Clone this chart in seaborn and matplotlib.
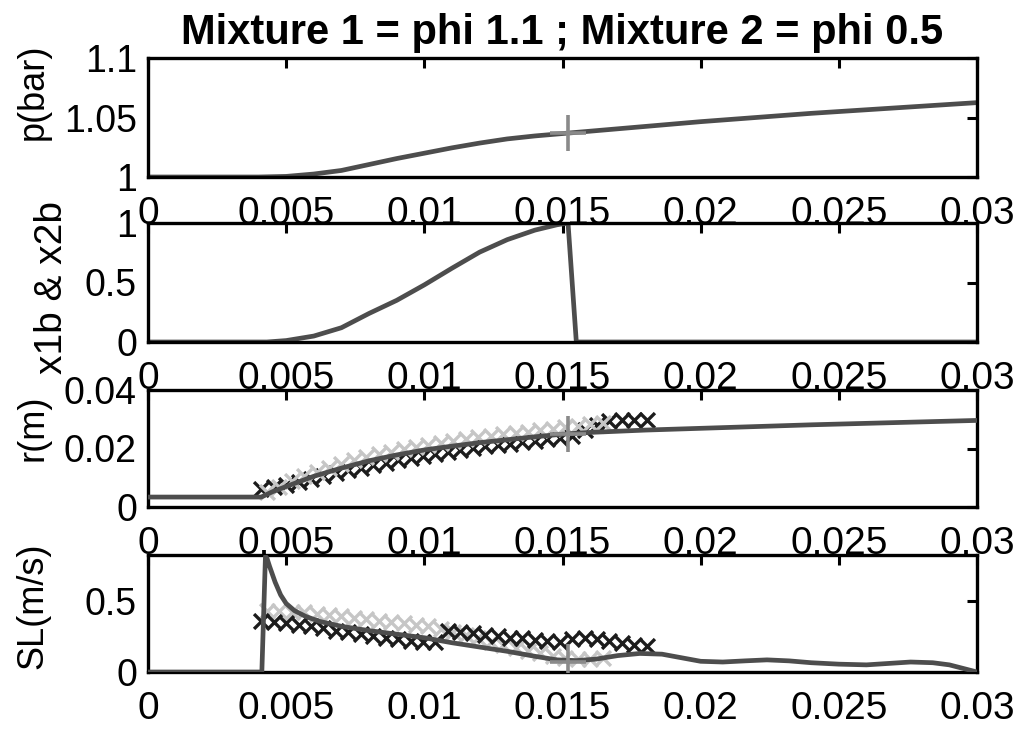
import matplotlib
matplotlib.use("Agg")
import matplotlib.pyplot as plt
import seaborn as sns

# ---- data ----
t_p = [0.0, 0.004, 0.005, 0.006, 0.007, 0.008, 0.009, 0.010, 0.011, 0.012, 0.013, 0.014, 0.015,
       0.016, 0.018, 0.020, 0.022, 0.024, 0.026, 0.028, 0.030]
p_bar = [1.0, 1.0, 1.0005, 1.0025, 1.0055, 1.0105, 1.0155, 1.020, 1.0245, 1.0285, 1.032, 1.0345, 1.0365,
         1.0385, 1.0425, 1.0465, 1.050, 1.0535, 1.0565, 1.0595, 1.0625]

t_x = [0.0, 0.0043, 0.005, 0.006, 0.007, 0.008, 0.009, 0.010, 0.011, 0.012, 0.013, 0.014,
       0.0148, 0.0152, 0.0155, 0.030]
x_burnt = [0.0, 0.0, 0.012, 0.05, 0.12, 0.24, 0.35, 0.48, 0.62, 0.755, 0.86, 0.94,
           0.985, 1.0, 0.0, 0.0]

t_r = [0.0, 0.0041, 0.0045, 0.005, 0.006, 0.007, 0.008, 0.009, 0.010, 0.011, 0.012, 0.013, 0.014,
       0.015, 0.016, 0.017, 0.018, 0.020, 0.022, 0.024, 0.026, 0.028, 0.030]
r_m = [0.0034, 0.0034, 0.0052, 0.0070, 0.0105, 0.0133, 0.0158, 0.0178, 0.0195, 0.0208, 0.0220, 0.0230, 0.0240,
       0.0249, 0.0255, 0.0259, 0.0263, 0.0269, 0.0275, 0.0281, 0.0286, 0.0291, 0.0296]

t_sl = [0.0, 0.00412, 0.00425, 0.0043, 0.0044, 0.0046, 0.0048, 0.0050, 0.0053, 0.0057, 0.0062,
        0.0070, 0.0080, 0.0090, 0.0100, 0.0110, 0.0120, 0.0130, 0.0140, 0.0148, 0.0155, 0.0162,
        0.0170, 0.0178, 0.0186, 0.0193, 0.0200, 0.0208, 0.0216, 0.0224, 0.0232, 0.0240, 0.0250,
        0.0260, 0.0268, 0.0276, 0.0284, 0.0290, 0.0296, 0.0300]
sl = [0.0, 0.0, 0.81, 0.80, 0.74, 0.63, 0.54, 0.48, 0.43, 0.39, 0.355,
      0.32, 0.29, 0.265, 0.24, 0.205, 0.175, 0.145, 0.11, 0.085, 0.08, 0.09,
      0.115, 0.13, 0.125, 0.10, 0.075, 0.07, 0.078, 0.085, 0.078, 0.065, 0.055,
      0.05, 0.06, 0.07, 0.065, 0.05, 0.02, 0.0]

# flame markers, mixture 1 (light) and mixture 2 (dark)
mix1_t = [0.0043, 0.00475, 0.0052, 0.00565, 0.0061, 0.00655, 0.007, 0.00745, 0.0079, 0.00835,
          0.0088, 0.00925, 0.0097, 0.01015, 0.0106, 0.01105, 0.0115, 0.01195, 0.0124, 0.01285,
          0.0133, 0.01375, 0.0142, 0.01465, 0.0151, 0.01555, 0.016, 0.01645]
mix1_r = [0.0050, 0.0070, 0.0088, 0.0105, 0.0120, 0.0134, 0.0147, 0.0159, 0.0170, 0.0180,
          0.0189, 0.0198, 0.0206, 0.0213, 0.0220, 0.0226, 0.0232, 0.0238, 0.0243, 0.0248,
          0.0253, 0.0258, 0.0263, 0.0268, 0.0273, 0.0278, 0.0283, 0.0288]
mix1_sl = [0.43, 0.43, 0.42, 0.42, 0.41, 0.40, 0.39, 0.38, 0.37, 0.36,
           0.35, 0.34, 0.33, 0.32, 0.30, 0.28, 0.26, 0.24, 0.21, 0.19,
           0.17, 0.15, 0.13, 0.11, 0.10, 0.09, 0.09, 0.10]

mix2_t = [0.0041, 0.00455, 0.005, 0.00545, 0.0059, 0.00635, 0.0068, 0.00725, 0.0077, 0.00815,
          0.0086, 0.00905, 0.0095, 0.00995, 0.0104, 0.01085, 0.0113, 0.01175, 0.0122, 0.01265,
          0.0131, 0.01355, 0.014, 0.01445, 0.0149, 0.01535, 0.0158, 0.01625, 0.0167, 0.01715,
          0.0176, 0.01805]
mix2_r = [0.0062, 0.0068, 0.0076, 0.0086, 0.0096, 0.0106, 0.0116, 0.0126, 0.0135, 0.0144,
          0.0152, 0.0160, 0.0168, 0.0175, 0.0182, 0.0189, 0.0195, 0.0201, 0.0207, 0.0212,
          0.0217, 0.0222, 0.0227, 0.0231, 0.0236, 0.0244, 0.0262, 0.0282, 0.0293, 0.0296,
          0.0297, 0.0297]
mix2_sl = [0.36, 0.35, 0.34, 0.33, 0.32, 0.305, 0.29, 0.28, 0.265, 0.25,
           0.24, 0.23, 0.22, 0.21, 0.21, 0.29, 0.28, 0.27, 0.26, 0.25,
           0.24, 0.235, 0.225, 0.215, 0.21, 0.23, 0.235, 0.23, 0.22, 0.20,
           0.19, 0.18]

# end of burn of mixture 1 (the "+" marker)
t_end = [0.0152]
p_end = [1.037]
r_end = [0.0248]
sl_end = [0.07]

x_ticks = [0, 0.005, 0.01, 0.015, 0.02, 0.025, 0.03]
x_ticklabels = ["0", "0.005", "0.01", "0.015", "0.02", "0.025", "0.03"]

sns.set_style("white")
plt.rcParams["font.family"] = ["Liberation Sans", "DejaVu Sans"]

line_c = "#4d4d4d"
light_c = "#c6c6c6"
dark_c = "#1c1c1c"
plus_c = "#8a8a8a"

fig = plt.figure(figsize=(10.19, 7.30), dpi=100)
left, width = 148 / 1019, 829 / 1019
tops = [58, 223, 390, 555]
bots = [177, 342, 507, 672]
axes = []
for top, bot in zip(tops, bots):
    ax = fig.add_axes([left, 1 - bot / 730, width, (bot - top) / 730])
    axes.append(ax)

ax1, ax2, ax3, ax4 = axes

# panel 1: pressure
sns.lineplot(x=t_p, y=p_bar, ax=ax1, color=line_c, lw=3.4, estimator=None, sort=False)
sns.scatterplot(x=t_end, y=p_end, ax=ax1, marker="+", s=650, linewidth=2.6, color=plus_c, zorder=5)
ax1.set_ylim(1, 1.1)
ax1.set_yticks([1, 1.05, 1.1])
ax1.set_yticklabels(["1", "1.05", "1.1"])

# panel 2: burnt fraction
sns.lineplot(x=t_x, y=x_burnt, ax=ax2, color=line_c, lw=3.4, estimator=None, sort=False)
ax2.set_ylim(0, 1)
ax2.set_yticks([0, 0.5, 1])
ax2.set_yticklabels(["0", "0.5", "1"])

# panel 3: flame radius
sns.scatterplot(x=mix2_t, y=mix2_r, ax=ax3, marker="x", s=115, linewidth=2.4, color=dark_c, zorder=2)
sns.scatterplot(x=mix1_t, y=mix1_r, ax=ax3, marker="x", s=115, linewidth=2.4, color=light_c, zorder=3)
sns.lineplot(x=t_r, y=r_m, ax=ax3, color=line_c, lw=3.4, estimator=None, sort=False, zorder=4)
sns.scatterplot(x=t_end, y=r_end, ax=ax3, marker="+", s=650, linewidth=2.6, color=plus_c, zorder=5)
ax3.set_ylim(0, 0.04)
ax3.set_yticks([0, 0.02, 0.04])
ax3.set_yticklabels(["0", "0.02", "0.04"])

# panel 4: laminar burning speed
sns.scatterplot(x=mix1_t, y=mix1_sl, ax=ax4, marker="x", s=115, linewidth=2.4, color=light_c, zorder=2)
sns.scatterplot(x=mix2_t, y=mix2_sl, ax=ax4, marker="x", s=115, linewidth=2.4, color=dark_c, zorder=3)
sns.lineplot(x=t_sl, y=sl, ax=ax4, color=line_c, lw=3.4, estimator=None, sort=False, zorder=4)
sns.scatterplot(x=t_end, y=sl_end, ax=ax4, marker="+", s=650, linewidth=2.6, color=plus_c, zorder=5)
ax4.set_ylim(0, 0.82)
ax4.set_yticks([0, 0.5])
ax4.set_yticklabels(["0", "0.5"])

ylabels = ["p(bar)", "x1b & x2b", "r(m)", "SL(m/s)"]
label_x = [-0.139, -0.116, -0.139, -0.139]
label_y = [0.72, 0.46, 0.675, 0.57]
label_size = [26, 28, 26, 26]
for ax, lab, lx, ly, fs in zip(axes, ylabels, label_x, label_y, label_size):
    ax.set_xlim(0, 0.03)
    ax.set_xticks(x_ticks)
    ax.set_xticklabels(x_ticklabels)
    ax.tick_params(direction="in", top=True, right=True, length=7, width=2.2,
                   color="black", labelcolor="black")
    ax.tick_params(axis="x", pad=14, labelsize=28)
    ax.tick_params(axis="y", pad=8, labelsize=27)
    for sp in ax.spines.values():
        sp.set_visible(True)
        sp.set_color("black")
        sp.set_linewidth(2.4)
    ax.set_xlabel("")
    ax.set_ylabel("")
    ax.text(lx, ly, lab, transform=ax.transAxes, rotation=90, ha="center", va="center",
            fontsize=fs, color="black")

ax1.set_title("Mixture 1 = phi 1.1 ; Mixture 2 = phi 0.5", fontsize=30, fontweight="bold",
              color="black", pad=10)

fig.savefig("out.png", dpi=100)
